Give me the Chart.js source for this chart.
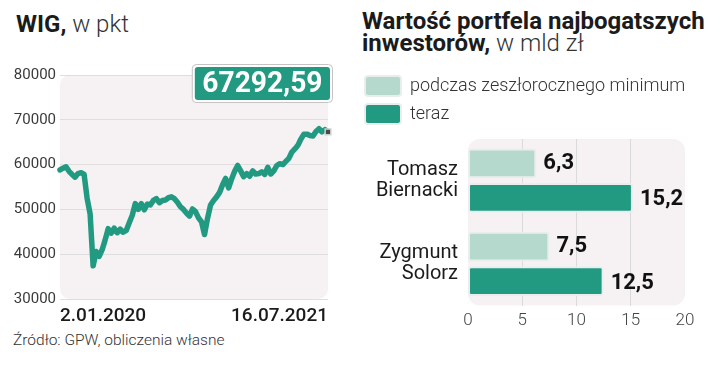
<!DOCTYPE html>
<html>
<head>
<meta charset="utf-8">
<script src="https://cdn.jsdelivr.net/npm/chart.js@4.4.1/dist/chart.umd.min.js"></script>
<style>
  body { margin: 0; width: 720px; height: 375px; background: #fff; font-family: Roboto, sans-serif; position: relative; overflow: hidden; }
  .txt { position: absolute; white-space: nowrap; color: #1b1b1b; line-height: normal; }
  .txt b { font-weight: 700; }
  .txt span { font-weight: 300; color: #333; }
  #wig { position: absolute; left: 0; top: 55px; }
  #rich { position: absolute; left: 357px; top: 68px; }
</style>
</head>
<body>
<div class="txt" style="left:16px;top:10px;font-size:24px"><b>WIG,</b><span> w pkt</span></div>
<div class="txt" style="left:362px;top:7px;font-size:24px"><b>Wartość portfela najbogatszych</b></div>
<div class="txt" style="left:362px;top:29px;font-size:24px"><b>inwestorów,</b><span> w mld zł</span></div>
<div class="txt" style="left:13px;top:331px;font-size:15.5px;font-weight:300;color:#333">Źródło: GPW, obliczenia własne</div>
<canvas id="wig" width="345" height="280"></canvas>
<canvas id="rich" width="363" height="272"></canvas>
<script>
// WIG, close values (2.01.2020 - 16.07.2021)
const wigFirstDate = '2.01.2020';
const wigLastDate = '16.07.2021';
const wigValues = [
  58800, 59200, 59500, 58500, 57800, 57200, 58000, 58200, 57800, 52500,
  49000, 37400, 40600, 39500, 41000, 43200, 45700, 44700, 45800, 44800,
  45600, 44900, 45300, 47000, 48700, 51300, 50000, 51300, 49900, 51200,
  51000, 52000, 52400, 51500, 52000, 52100, 52600, 52800, 52400, 51600,
  50600, 50000, 49200, 48500, 50100, 49500, 48100, 47200, 44400, 48000,
  51000, 52000, 52800, 53800, 55500, 56900, 54800, 56800, 58500, 59800,
  58600, 57300, 58000, 57400, 58600, 57900, 58000, 58400, 57800, 59400,
  57900, 58600, 59800, 60200, 60000, 60700, 61400, 62800, 63500, 64300,
  65700, 66800, 66800, 66500, 66400, 67400, 68000, 67300, 67800, 67292.59
];
const wigMin = 30000;
const wigMax = 80000;
const wigStep = 10000;

// portfolio values, bln zl
const investors = [['Tomasz', 'Biernacki'], ['Zygmunt', 'Solorz']];
const seriesNames = ['podczas zeszłorocznego minimum', 'teraz'];
const minimumValues = [6.3, 7.5];
const nowValues = [15.2, 12.5];
const valueMin = 0;
const valueMax = 20;
const valueStep = 5;

const TEAL = '#229a82';
const LIGHT = '#b5d9cc';
const PLOT_BG = '#f6f1f3';

Chart.defaults.font.family = 'Roboto, sans-serif';
Chart.defaults.color = '#333';

const fmt = (v, d) => v.toFixed(d).replace('.', ',');

const plotBackground = {
  id: 'plotBackground',
  beforeDraw(chart, args, opts) {
    const { ctx, chartArea: a } = chart;
    ctx.save();
    ctx.fillStyle = PLOT_BG;
    ctx.beginPath();
    ctx.roundRect(a.left, a.top, a.right - a.left, a.bottom - a.top, opts.radius || 10);
    ctx.fill();
    ctx.restore();
  }
};

const lastValueBox = {
  id: 'lastValueBox',
  afterDraw(chart) {
    const { ctx, chartArea: a } = chart;
    const data = chart.data.datasets[0].data;
    const text = fmt(data[data.length - 1], 2);
    ctx.save();
    ctx.font = 'bold 30px Roboto';
    const tw = ctx.measureText(text).width * 0.94;
    const w = tw + 20, h = 38;
    const x = a.right + 4 - w, y = a.top - 11;
    ctx.fillStyle = '#fff';
    ctx.strokeStyle = '#c4c4c4';
    ctx.lineWidth = 1;
    ctx.beginPath();
    ctx.roundRect(x + 0.5, y + 0.5, w, h, 4);
    ctx.fill();
    ctx.stroke();
    ctx.fillStyle = TEAL;
    ctx.beginPath();
    ctx.roundRect(x + 3, y + 3, w - 5, h - 5, 3);
    ctx.fill();
    ctx.fillStyle = '#fff';
    ctx.textAlign = 'center';
    ctx.textBaseline = 'middle';
    ctx.translate(x + 0.5 + w / 2, y + h / 2 + 1.5);
    ctx.scale(0.94, 1);
    ctx.fillText(text, 0, 0);
    ctx.restore();
  }
};

const barValues = {
  id: 'barValues',
  afterDatasetsDraw(chart) {
    const { ctx } = chart;
    ctx.save();
    ctx.font = 'bold 22px Roboto';
    ctx.fillStyle = '#111';
    ctx.textBaseline = 'middle';
    chart.data.datasets.forEach((ds, di) => {
      chart.getDatasetMeta(di).data.forEach((bar, i) => {
        ctx.fillText(fmt(ds.data[i], 1), bar.x + 7, bar.y + (di === 1 ? 2 : 0));
      });
    });
    ctx.restore();
  }
};

const last = wigValues.length - 1;
const wigLabels = wigValues.map((v, i) => i === 0 ? wigFirstDate : (i === last ? wigLastDate : ''));

new Chart(document.getElementById('wig'), {
  type: 'line',
  data: {
    labels: wigLabels,
    datasets: [{
      data: wigValues,
      borderColor: TEAL,
      borderWidth: 5.5,
      borderJoinStyle: 'round',
      borderCapStyle: 'round',
      tension: 0,
      clip: false,
      pointStyle: 'rect',
      pointRadius: ctx => ctx.dataIndex === last ? 4 : 0,
      pointBackgroundColor: '#4a4a4a',
      pointBorderColor: '#d0d0d0',
      pointBorderWidth: 1.5
    }]
  },
  options: {
    responsive: false,
    animation: false,
    events: [],
    layout: { padding: { top: 20, right: 17, left: 0, bottom: 0 } },
    plugins: { legend: { display: false }, tooltip: { enabled: false }, plotBackground: { radius: 10 } },
    scales: {
      x: {
        grid: { display: false, drawTicks: false },
        border: { display: false },
        ticks: {
          autoSkip: false, minRotation: 0, maxRotation: 0, align: 'inner', padding: 6,
          color: '#1b1b1b', font: { size: 19, weight: 500 }
        },
        afterFit: s => { s.height = 36; }
      },
      y: {
        min: wigMin, max: wigMax,
        grid: { color: '#dedede', drawTicks: false },
        border: { display: false },
        ticks: { stepSize: wigStep, padding: 4, color: '#3a3a3a', font: { size: 15 }, callback: v => String(v) },
        afterFit: s => { s.width = 60; }
      }
    }
  },
  plugins: [plotBackground, lastValueBox]
});

new Chart(document.getElementById('rich'), {
  type: 'bar',
  data: {
    labels: investors,
    datasets: [
      { label: seriesNames[0], data: minimumValues, backgroundColor: LIGHT },
      { label: seriesNames[1], data: nowValues, backgroundColor: TEAL }
    ]
  },
  options: {
    indexAxis: 'y',
    responsive: false,
    animation: false,
    events: [],
    layout: { padding: { top: 0, right: 35, left: 0, bottom: 0 } },
    datasets: {
      bar: {
        borderColor: '#e9eeec', borderWidth: 2, borderRadius: 3, borderSkipped: false,
        categoryPercentage: 0.83, barPercentage: 0.857
      }
    },
    plugins: {
      tooltip: { enabled: false },
      plotBackground: { radius: 12 },
      legend: {
        position: 'top', align: 'start',
        labels: {
          boxWidth: 36, boxHeight: 20, padding: 8, useBorderRadius: true, borderRadius: 3,
          color: '#333', font: { size: 18, weight: 300 }
        }
      }
    },
    scales: {
      spacer: {
        type: 'linear', axis: 'x', position: 'top', display: true,
        ticks: { display: false }, grid: { display: false, drawTicks: false }, border: { display: false },
        afterFit: s => { s.height = 5; }
      },
      x: {
        min: valueMin, max: valueMax,
        grid: {
          drawTicks: false,
          color: c => (c.tick && (c.tick.value === valueMin || c.tick.value === valueMax)) ? 'rgba(0,0,0,0)' : '#dadada'
        },
        border: { display: false },
        ticks: { stepSize: valueStep, padding: 5, color: '#444', font: { size: 17, weight: 300 } },
        afterFit: s => { s.height = 34.5; }
      },
      y: {
        grid: { display: false, drawTicks: false },
        border: { display: false },
        ticks: { padding: 10, color: '#1b1b1b', font: { size: 20, lineHeight: 1.05 } },
        afterFit: s => { s.width = 111; }
      }
    }
  },
  plugins: [plotBackground, barValues]
});
</script>
</body>
</html>
